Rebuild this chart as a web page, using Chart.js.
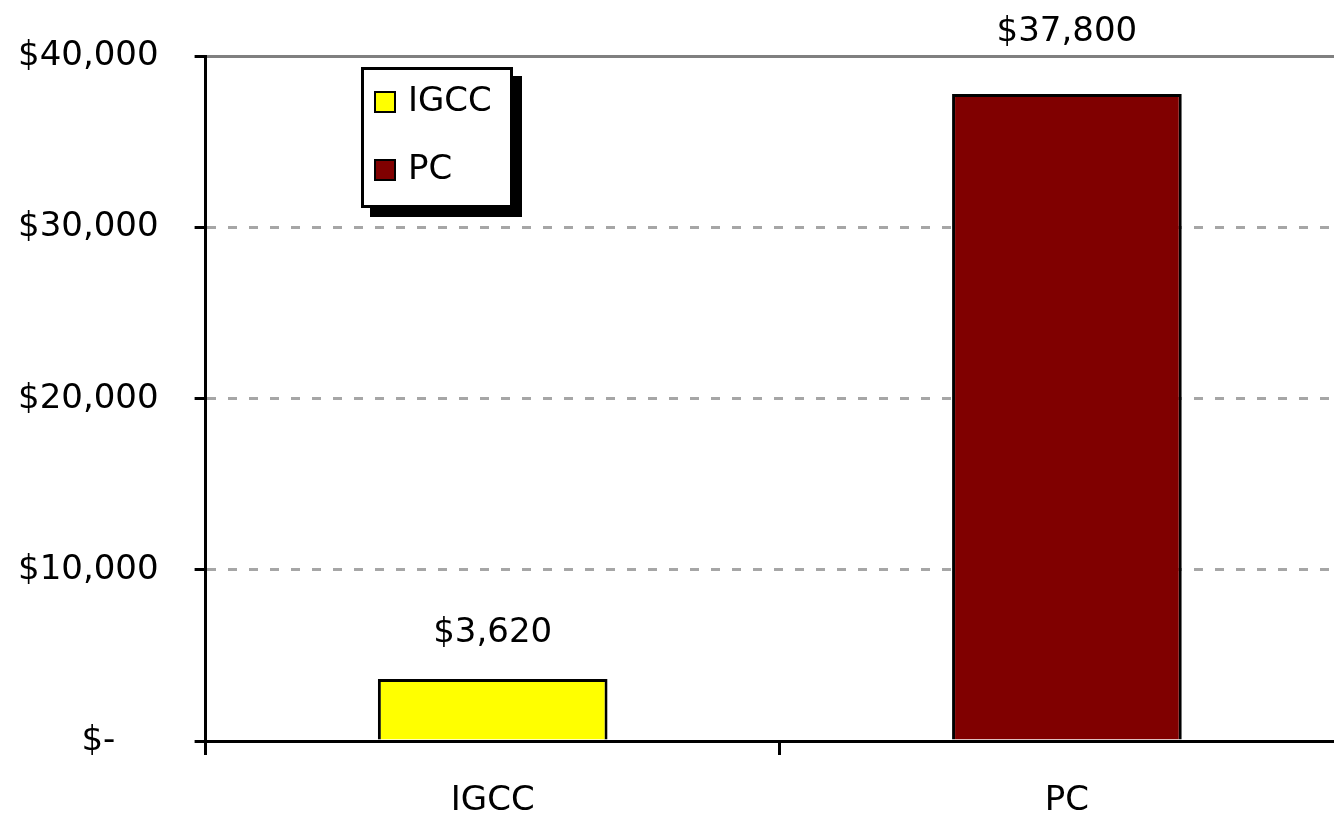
<!DOCTYPE html>
<html>
<head>
<meta charset="utf-8">
<script src="https://cdn.jsdelivr.net/npm/chart.js@4.4.1/dist/chart.umd.min.js"></script>
<style>
  html, body { margin: 0; padding: 0; background: #fff; overflow: hidden; }
  /* canvas is a bit larger than the window: the original chart is cropped at the right/bottom */
  #wrap { position: relative; width: 1372px; height: 847px; margin-left: -18px; }
</style>
</head>
<body>
<div id="wrap"><canvas id="chart"></canvas></div>
<script>
const categories = ['IGCC', 'PC'];
const costValues = [3620, 37800];
const barColors = ['#ffff00', '#800000'];
const yTicks = [0, 10000, 20000, 30000, 40000];

const FONT = '"DejaVu Sans", sans-serif';
const SHIFT = 18; // canvas offset to the left

function money(v) {
  if (v === 0) return '$-    ';
  return '$' + v.toLocaleString('en-US');
}

// value labels above each bar
const valueLabels = {
  id: 'valueLabels',
  afterDatasetsDraw(chart) {
    const ctx = chart.ctx;
    const top = chart.chartArea.top;
    const meta = chart.getDatasetMeta(0);
    ctx.save();
    ctx.font = '34px ' + FONT;
    ctx.fillStyle = '#000';
    ctx.textAlign = 'center';
    ctx.textBaseline = 'middle';
    meta.data.forEach((bar, i) => {
      let y = bar.y - 46;
      if (y < top + 20) y = top - 24; // keep clear of the top gridline
      ctx.fillText(money(costValues[i]), bar.x, y);
    });
    ctx.restore();
  }
};

// boxed legend with drop shadow, like the spreadsheet original
const boxLegend = {
  id: 'boxLegend',
  afterDraw(chart) {
    const ctx = chart.ctx;
    const x = 361 + SHIFT, y = 67, w = 152, h = 141;
    ctx.save();
    ctx.fillStyle = '#000';
    ctx.fillRect(x + 9, y + 9, w, h);
    ctx.fillStyle = '#fff';
    ctx.fillRect(x, y, w, h);
    ctx.lineWidth = 3;
    ctx.strokeStyle = '#000';
    ctx.strokeRect(x + 1.5, y + 1.5, w - 3, h - 3);
    ctx.font = '34px ' + FONT;
    ctx.textBaseline = 'middle';
    ctx.textAlign = 'left';
    categories.forEach((name, i) => {
      const cy = y + 35 + i * 68;
      ctx.fillStyle = barColors[i];
      ctx.fillRect(x + 13, cy - 11, 22, 22);
      ctx.lineWidth = 2;
      ctx.strokeRect(x + 14, cy - 10, 20, 20);
      ctx.fillStyle = '#000';
      ctx.fillText(name, x + 47, cy);
    });
    ctx.restore();
  }
};

new Chart(document.getElementById('chart'), {
  type: 'bar',
  data: {
    labels: categories,
    datasets: [{
      label: 'Cost',
      data: costValues,
      backgroundColor: barColors,
      borderColor: '#000',
      borderWidth: 3,
      borderSkipped: 'start',
      categoryPercentage: 1,
      barPercentage: 0.4
    }]
  },
  options: {
    responsive: true,
    maintainAspectRatio: false,
    animation: false,
    layout: { padding: { top: 55, right: 0, bottom: 0, left: 0 } },
    plugins: {
      legend: { display: false },
      tooltip: { enabled: false }
    },
    scales: {
      x: {
        offset: true,
        grid: {
          offset: true,
          drawOnChartArea: false,
          tickLength: 14,
          tickWidth: 3,
          tickColor: '#000'
        },
        border: { display: true, color: '#000', width: 3 },
        ticks: {
          color: '#000',
          padding: 29,
          font: { family: FONT, size: 34, lineHeight: 1 }
        }
      },
      y: {
        min: 0,
        max: 40000,
        afterBuildTicks: (axis) => { axis.ticks = yTicks.map(v => ({ value: v })); },
        grid: {
          lineWidth: 3,
          color: (c) => {
            if (!c.tick || c.tick.value === 0) return 'transparent';
            return c.tick.value === 40000 ? '#808080' : '#a6a6a6';
          },
          tickLength: 11,
          tickWidth: 3,
          tickColor: '#000'
        },
        border: {
          display: true,
          color: '#000',
          width: 3,
          dash: (c) => (c.tick && c.tick.value === 40000 ? [] : [9, 12])
        },
        ticks: {
          color: '#000',
          padding: 36,
          font: { family: FONT, size: 34 },
          callback: (v) => money(v)
        }
      }
    }
  },
  plugins: [valueLabels, boxLegend]
});
</script>
</body>
</html>
